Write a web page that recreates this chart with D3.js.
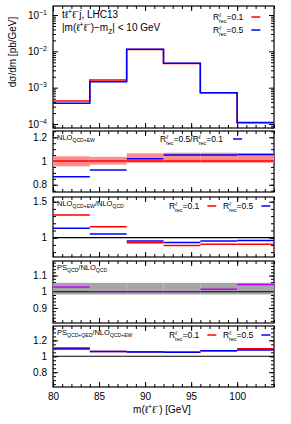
<!DOCTYPE html>
<html>
<head>
<meta charset="utf-8">
<script src="https://cdn.jsdelivr.net/npm/d3@7"></script>
<style>
  body { margin: 0; background: #fff; }
  text { font-family: "Liberation Sans", Arial, sans-serif; fill: #000; }
</style>
</head>
<body>
<svg id="chart" width="291" height="424"></svg>
<script>
// bins of m(l+l-) [GeV]
const binEdges = [80, 84, 88, 92, 96, 100, 104]
const xMajor = [80, 85, 90, 95, 100]

// main panel: dsigma/dm [pb/GeV]
const xsecR01 = [4.3e-4, 1.63e-3, 1.12e-2, 4.6e-3, 7.2e-4, 1.08e-4]
const xsecR05 = [3.7e-4, 1.46e-3, 1.14e-2, 4.7e-3, 7.3e-4, 1.1e-4]

// NLO_QCD+EW: scale band and R=0.5/R=0.1
const nloScaleLo = [0.955, 0.97, 0.985, 0.985, 0.985, 0.985]
const nloScaleHi = [1.04, 1.035, 1.065, 1.07, 1.07, 1.065]
const nloRatio05 = [0.868, 0.924, 1.02, 1.05, 1.05, 1.055]

// NLO_QCD+EW / NLO_QCD
const ewR01 = [1.315, 1.153, 0.93, 0.89, 0.91, 0.91]
const ewR05 = [1.13, 1.05, 0.955, 0.935, 0.955, 0.96]

// PS_QCD / NLO_QCD
const psBandLo = [0.983, 0.983, 0.983, 0.983, 0.983, 0.983]
const psBandHi = [1.055, 1.055, 1.055, 1.055, 1.055, 1.055]
const psQcd = [1.03, 1.0, 1.0, 1.0, 1.015, 1.045]

// PS_QCD+QED / NLO_QCD+EW
const qedR01 = [1.104, 1.06, 1.058, 1.05, 1.07, 1.095]
const qedR01Lo = [1.092, 1.056, 1.054, 1.046, 1.066, 1.085]
const qedR01Hi = [1.116, 1.064, 1.062, 1.054, 1.074, 1.105]
const qedR05 = [1.09, 1.06, 1.053, 1.05, 1.07, 1.08]

const RED = '#ff0000'
const BLUE = '#0000ff'
const PINK = '#ff8c8c'
const MAGENTA = '#c000ff'

const L = 53
const R = 274
const svg = d3.select('#chart')
const x = d3.scaleLinear().domain([80, 104]).range([L, R])
const bins = binEdges.slice(0, -1).map((e, i) => ({ x0: e, x1: binEdges[i + 1], i }))

/** frame, inside ticks on all four sides, left labels */
function frame (y, top, bottom, majors, minors, fmt, xLabels) {
  const g = svg.append('g')
  const ax = (gen, tx, ty) => {
    const a = g.append('g').attr('transform', `translate(${tx},${ty})`).call(gen)
    a.select('.domain').remove()
    a.selectAll('line').attr('stroke', '#000')
    return a
  }
  const xMinor = d3.range(80, 105, 1)
  ax(d3.axisBottom(x).tickValues(xMinor).tickSize(-3).tickFormat(''), 0, bottom)
  ax(d3.axisTop(x).tickValues(xMinor).tickSize(-3).tickFormat(''), 0, top)
  const xb = ax(d3.axisBottom(x).tickValues(xMajor).tickSize(-5).tickPadding(6)
    .tickFormat(xLabels ? d3.format('d') : ''), 0, bottom)
  xb.selectAll('text').attr('font-size', 10).attr('font-family', '"Liberation Sans", Arial, sans-serif')
  ax(d3.axisTop(x).tickValues(xMajor).tickSize(-5).tickFormat(''), 0, top)

  ax(d3.axisLeft(y).tickValues(minors).tickSize(-3).tickFormat(''), L, 0)
  ax(d3.axisRight(y).tickValues(minors).tickSize(-3).tickFormat(''), R, 0)
  const yl = ax(d3.axisLeft(y).tickValues(majors).tickSize(-5).tickPadding(6).tickFormat(fmt || ''), L, 0)
  yl.selectAll('text').attr('font-size', 10).attr('font-family', '"Liberation Sans", Arial, sans-serif')
  ax(d3.axisRight(y).tickValues(majors).tickSize(-5).tickFormat(''), R, 0)

  g.append('rect').attr('x', L).attr('y', top).attr('width', R - L).attr('height', bottom - top)
    .attr('fill', 'none').attr('stroke', '#000').attr('stroke-width', 1.2)
  return yl
}

function bands (y, lo, hi, color) {
  svg.append('g').selectAll('rect').data(bins).enter().append('rect')
    .attr('x', b => x(b.x0)).attr('width', b => x(b.x1) - x(b.x0))
    .attr('y', b => y(hi[b.i])).attr('height', b => y(lo[b.i]) - y(hi[b.i]))
    .attr('fill', color)
}

function segments (y, vals, color, w) {
  const g = svg.append('g')
  g.selectAll('line').data(bins).enter().append('line')
    .attr('x1', b => x(b.x0)).attr('x2', b => x(b.x1))
    .attr('y1', b => y(vals[b.i])).attr('y2', b => y(vals[b.i]))
    .attr('stroke', color).attr('stroke-width', w || 1.5)
  return g
}

function unity (y) {
  svg.append('line').attr('x1', L).attr('x2', R).attr('y1', y(1)).attr('y2', y(1))
    .attr('stroke', '#000').attr('stroke-width', 1.2)
}

/** text with subscript pieces: parts = [[str, 'n'|'sub'|'sup'], ...] */
function rich (px, py, parts, size, anchor) {
  const t = svg.append('text').attr('x', px).attr('y', py).attr('font-size', size)
    .attr('text-anchor', anchor || 'start')
  let shift = 0
  parts.forEach(([s, kind]) => {
    const target = kind === 'sub' ? size * 0.3 : kind === 'sup' ? -size * 0.4 : 0
    t.append('tspan').attr('dy', target - shift)
      .attr('font-size', kind === 'n' ? size : size * 0.68).text(s)
    shift = target
  })
  return t
}

/** R^l_rec=val with a line sample after it */
function rLegend (px, py, val, color) {
  const t = svg.append('text').attr('x', px).attr('y', py).attr('font-size', 8.5)
  t.append('tspan').text('R')
  t.append('tspan').attr('font-size', 5.5).attr('dy', -3.5).attr('font-style', 'italic').text('ℓ')
  t.append('tspan').attr('font-size', 5.5).attr('dx', -2).attr('dy', 6).text('rec')
  t.append('tspan').attr('dy', -2.5).text('=' + val)
  const w = t.node().getComputedTextLength()
  svg.append('line').attr('x1', px + w + 6).attr('x2', px + w + 15).attr('y1', py - 3).attr('y2', py - 3)
    .attr('stroke', color).attr('stroke-width', 1.5)
}

// ---------- main panel ----------
const yMain = d3.scaleLog().domain([Math.pow(10, -4.11), Math.pow(10, -0.752)]).range([128, 6])
const mainMinor = []
for (let e = -5; e <= -1; e++) for (let k = 2; k <= 9; k++) {
  const v = k * Math.pow(10, e)
  if (v > yMain.domain()[0] && v < yMain.domain()[1]) mainMinor.push(v)
}
const mainLabels = frame(yMain, 6, 128, [1e-4, 1e-3, 1e-2, 1e-1], mainMinor, () => '')
mainLabels.selectAll('text').each(function (d) {
  const t = d3.select(this).text('')
  t.append('tspan').text('10')
  t.append('tspan').attr('dy', -4).attr('font-size', 7).text('−' + Math.round(-Math.log10(d)))
})

const stepLine = d3.line().curve(d3.curveStepAfter).x(d => x(d[0])).y(d => yMain(d[1]))
const stepPts = vals => binEdges.map((e, i) => [e, vals[Math.min(i, vals.length - 1)]])
svg.append('path').attr('d', stepLine(stepPts(xsecR01))).attr('fill', 'none')
  .attr('stroke', RED).attr('stroke-width', 1.5)
svg.append('path').attr('d', stepLine(stepPts(xsecR05))).attr('fill', 'none')
  .attr('stroke', BLUE).attr('stroke-width', 1.5)

rich(62, 18, [['tℓ', 'n'], ['+', 'sup'], ['ℓ', 'n'], ['−', 'sup'], ['j, LHC13', 'n']], 10)
rich(62, 31, [['|m(ℓ', 'n'], ['+', 'sup'], ['ℓ', 'n'], ['−', 'sup'], [')−m', 'n'], ['Z', 'sub'], ['| < 10 GeV', 'n']], 10)
rLegend(213, 20, '0.1', RED)
rLegend(213, 33, '0.5', BLUE)

svg.append('text').attr('transform', 'translate(16,52) rotate(-90)').attr('text-anchor', 'middle')
  .attr('font-size', 10).text('dσ/dm [pb/GeV]')

// ---------- NLO_QCD+EW ----------
const y2 = d3.scaleLinear().domain([0.739, 1.253]).range([192, 131])
frame(y2, 131, 192, [0.8, 1, 1.2], d3.range(0.75, 1.26, 0.05), d => d === 1 ? '1' : d3.format('.1f')(d))
bands(y2, nloScaleLo, nloScaleHi, PINK)
segments(y2, [1, 1, 1, 1, 1, 1], RED)
segments(y2, nloRatio05, BLUE)
rich(57, 140, [['NLO', 'n'], ['QCD+EW', 'sub']], 7.5)
const t2 = svg.append('text').attr('x', 160).attr('y', 142).attr('font-size', 8.5)
t2.append('tspan').text('R')
t2.append('tspan').attr('font-size', 5.5).attr('dy', -3.5).attr('font-style', 'italic').text('ℓ')
t2.append('tspan').attr('font-size', 5.5).attr('dx', -2).attr('dy', 6).text('rec')
t2.append('tspan').attr('dy', -2.5).text('=0.5/R')
t2.append('tspan').attr('font-size', 5.5).attr('dy', -3.5).attr('font-style', 'italic').text('ℓ')
t2.append('tspan').attr('font-size', 5.5).attr('dx', -2).attr('dy', 6).text('rec')
t2.append('tspan').attr('dy', -2.5).text('=0.1')
const w2 = t2.node().getComputedTextLength()
svg.append('line').attr('x1', 160 + w2 + 6).attr('x2', 160 + w2 + 15).attr('y1', 139).attr('y2', 139)
  .attr('stroke', BLUE).attr('stroke-width', 1.5)

// ---------- NLO_QCD+EW / NLO_QCD ----------
const y3 = d3.scaleLinear().domain([0.732, 1.565]).range([257, 197])
frame(y3, 197, 257, [1, 1.5], d3.range(0.8, 1.56, 0.1), d => d === 1 ? '1' : d3.format('.1f')(d))
unity(y3)
segments(y3, ewR01, RED)
segments(y3, ewR05, BLUE)
rich(57, 206, [['NLO', 'n'], ['QCD+EW', 'sub'], ['/NLO', 'n'], ['QCD', 'sub']], 7.5)
rLegend(169, 209, '0.1', RED)
rLegend(223, 209, '0.5', BLUE)

// ---------- PS_QCD / NLO_QCD ----------
const y4 = d3.scaleLinear().domain([0.807, 1.19]).range([323, 261])
frame(y4, 261, 323, [0.9, 1, 1.1], d3.range(0.82, 1.19, 0.02), d => d === 1 ? '1' : d3.format('.1f')(d))
bands(y4, psBandLo, psBandHi, '#a6a6a6')
unity(y4)
segments(y4, psQcd, MAGENTA).selectAll('line').attr('stroke-opacity', d => psQcd[d.i] === 1 ? 0.45 : 1)
rich(57, 270, [['PS', 'n'], ['QCD', 'sub'], ['/NLO', 'n'], ['QCD', 'sub']], 7.5)

// ---------- PS_QCD+QED / NLO_QCD+EW ----------
const y5 = d3.scaleLinear().domain([0.614, 1.38]).range([387, 326])
frame(y5, 326, 387, [0.8, 1, 1.2], d3.range(0.65, 1.38, 0.05), d => d === 1 ? '1' : d3.format('.1f')(d), true)
unity(y5)
bands(y5, qedR01Lo, qedR01Hi, PINK)
segments(y5, qedR01, RED)
segments(y5, qedR05, BLUE)
rich(57, 335, [['PS', 'n'], ['QCD+QED', 'sub'], ['/NLO', 'n'], ['QCD+EW', 'sub']], 7.5)
rLegend(169, 338, '0.1', RED)
rLegend(223, 338, '0.5', BLUE)

rich(162, 413, [['m(ℓ', 'n'], ['+', 'sup'], ['ℓ', 'n'], ['−', 'sup'], [') [GeV]', 'n']], 10, 'middle')
</script>
</body>
</html>
